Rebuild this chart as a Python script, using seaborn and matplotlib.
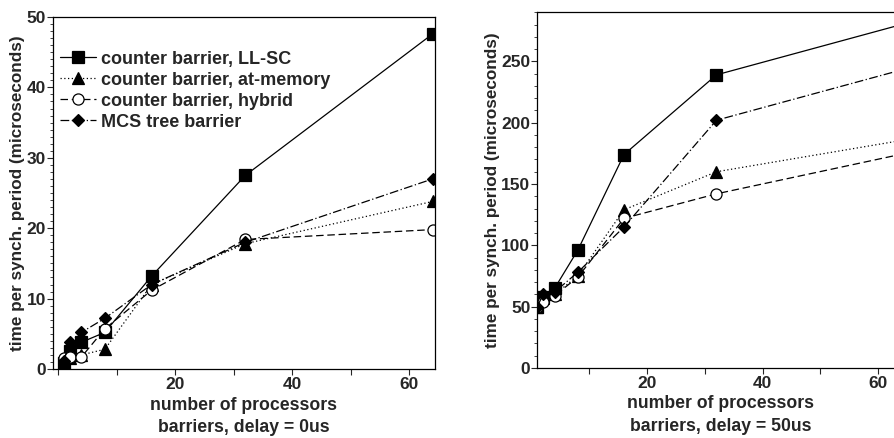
import matplotlib
matplotlib.use("Agg")
import matplotlib.pyplot as plt
import seaborn as sns
import pandas as pd
from matplotlib.ticker import MultipleLocator
from matplotlib.lines import Line2D

sns.set_theme(style="ticks")
plt.rcParams['font.family'] = ['Liberation Sans', 'DejaVu Sans']
plt.rcParams['font.weight'] = 'bold'

procs = [1, 2, 4, 8, 16, 32, 64]
series_names = ["counter barrier, LL-SC", "counter barrier, at-memory",
                "counter barrier, hybrid", "MCS tree barrier"]

# delay = 0us
d0_llsc = [0.8, 2.5, 3.8, 5.2, 13.2, 27.5, 47.6]
d0_atmem = [1.0, 1.5, 2.0, 2.8, 12.0, 17.8, 23.8]
d0_hybrid = [1.5, 1.7, 1.7, 5.7, 11.2, 18.4, 19.8]
d0_mcs = [1.2, 3.8, 5.2, 7.2, 12.0, 18.0, 27.0]

# delay = 50us
d50_llsc = [50, 58, 65, 96, 174, 239, 280]
d50_atmem = [50, 57, 60, 75, 129, 160, 185.5]
d50_hybrid = [50, 54, 59, 74, 122, 142, 174.3]
d50_mcs = [50, 60, 62, 78, 115, 202, 243]

styles = [
    dict(marker='s', markersize=9, mfc='black', dashes=None),
    dict(marker='^', markersize=8, mfc='black', dashes=(1, 2)),
    dict(marker='o', markersize=8, mfc='white', dashes=(6, 3)),
    dict(marker='D', markersize=6.5, mfc='black', dashes=(7, 2, 1, 2)),
]

fig = plt.figure(figsize=(8.94, 4.38), dpi=100)
ax1 = fig.add_axes([53/894, 1-369/438, (435-53)/894, (369-17)/438])
ax2 = fig.add_axes([537.3/894, 1-368/438, (904.3-537.3)/894, (368-12.3)/438])

def line_kw(st):
    kw = dict(color='black', lw=0.9, marker=st['marker'], markersize=st['markersize'],
              markerfacecolor=st['mfc'], markeredgecolor='black', markeredgewidth=0.9)
    if st['dashes'] is not None:
        kw['dashes'] = st['dashes']
    return kw

def draw(ax, data, label):
    for name, vals, st in zip(series_names, data, styles):
        df = pd.DataFrame({"procs": procs, "time": vals})
        sns.lineplot(data=df, x="procs", y="time", ax=ax, legend=False, **line_kw(st))
    ax.set_xlabel("number of processors\nbarriers, delay = " + label,
                  fontsize=12.7, fontweight='bold', labelpad=3, linespacing=1.45)
    ax.set_ylabel("time per synch. period (microseconds)", fontsize=12.3,
                  fontweight='bold', labelpad=1)
    ax.set_xticks([20, 40, 60])
    ax.xaxis.set_minor_locator(MultipleLocator(10))
    ax.tick_params(axis='x', which='both', direction='out', length=4, width=0.8, pad=2,
                   labelsize=12.5)
    ax.tick_params(axis='y', which='major', direction='out', length=4, width=0.8, pad=1,
                   labelsize=12.5)
    ax.tick_params(axis='y', which='minor', direction='out', length=2.5, width=0.6)
    for sp in ax.spines.values():
        sp.set_linewidth(0.9)
        sp.set_color('black')

draw(ax1, [d0_llsc, d0_atmem, d0_hybrid, d0_mcs], "0us")
ax1.set_xlim(-0.85, 64.4)
ax1.set_ylim(0, 50)
ax1.yaxis.set_major_locator(MultipleLocator(10))
ax1.yaxis.set_minor_locator(MultipleLocator(1))

draw(ax2, [d50_llsc, d50_atmem, d50_hybrid, d50_mcs], "50us")
ax2.set_xlim(1, 64.5)
ax2.set_ylim(0, 290)
ax2.yaxis.set_major_locator(MultipleLocator(50))
ax2.yaxis.set_minor_locator(MultipleLocator(10))
ax2.spines['right'].set_visible(False)

for ax in (ax1, ax2):
    for lab in ax.get_xticklabels() + ax.get_yticklabels():
        lab.set_fontweight('bold')

handles = [Line2D([], [], **line_kw(st)) for st in styles]
leg = ax1.legend(handles, series_names, loc='upper left', frameon=False,
                 bbox_to_anchor=(-0.01, 0.935), handlelength=2.0, handletextpad=0.25,
                 labelspacing=0.22, borderaxespad=0.2,
                 prop=dict(family='Liberation Sans', weight='bold', size=13))

fig.savefig("out.png", dpi=100)
